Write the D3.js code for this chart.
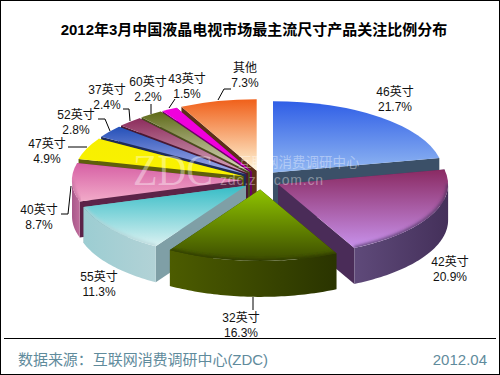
<!DOCTYPE html>
<html>
<head>
<meta charset="utf-8">
<script src="https://cdn.jsdelivr.net/npm/d3@7"></script>
<style>
html, body { margin: 0; padding: 0; background: #fff; }
svg { display: block; }
text { font-family: "Liberation Sans", "Noto Sans CJK SC", sans-serif; }
</style>
</head>
<body>
<svg id="chart" width="500" height="375"></svg>
<script>
var categories = ["46英寸", "42英寸", "32英寸", "55英寸", "40英寸", "47英寸", "52英寸", "37英寸", "60英寸", "43英寸", "其他"];
var shares = [21.7, 20.9, 16.3, 11.3, 8.7, 4.9, 2.8, 2.4, 2.2, 1.5, 7.3];

// face gradient top/bottom, outer wall left/right, cut wall
var faceTop = ["#2f5ee6", "#8a2a62", "#8fc400", "#35bcc6", "#d65fa4", "#f7ef00", "#2450b8", "#8c2c5c", "#5e6a18", "#f000dc", "#f0601a"];
var faceBottom = ["#92b8f2", "#c892ec", "#3c4c00", "#dcf2f2", "#f2abc9", "#f9f200", "#a8aeea", "#d6a8bc", "#dedcc4", "#f000dc", "#fff8da"];
var wallLeft = ["#3b5068", "#5f4a7a", "#4c5c00", "#9ccdd2", "#a8588a", "#77760c", "#26386e", "#60203f", "#474f10", "#8c0084", "#7c3c20"];
var wallRight = ["#3b5068", "#44305a", "#2a3400", "#b2d2d6", "#c06c9c", "#77760c", "#26386e", "#60203f", "#474f10", "#8c0084", "#7c3c20"];
var cutColor = ["#3b5068", "#4a2c58", "#2c3600", "#7f9fa6", "#5c2348", "#5f5f0c", "#1e2c58", "#4a1832", "#4a4c1c", "#6c0068", "#5c3018"];

// draw order, back of the pie first
var drawOrder = [0, 10, 9, 8, 7, 6, 5, 4, 1, 3, 2];

// label anchors and leader lines
var labelX = [395, 450, 241, 99, 39, 47, 76, 107, 148, 187, 245];
var labelY = [96, 266, 322, 281, 214, 148, 119, 94, 86, 83, 72];
var leaders = [
  null, null,
  [[253, 297], [253, 310]],
  null,
  [[61, 214], [68, 214], [71, 186]],
  [[68, 147], [87, 147]],
  [[98, 119], [105, 119], [110, 131]],
  [[123, 109], [129, 109], [130, 121]],
  [[151, 104], [151, 114]],
  [[169, 108], [175, 99]],
  [[218, 100], [224, 89], [231, 89]]
];

var width = 500, height = 375;
var cx = 261, cy = 180, rx = 170, squash = 0.42, explode = 19, depth = 36;

var svg = d3.select("#chart");
var defs = svg.append("defs");

defs.append("filter").attr("id", "soft").append("feGaussianBlur").attr("stdDeviation", 1.6);

svg.append("rect").attr("x", 0.5).attr("y", 0.5).attr("width", width - 1).attr("height", height - 1)
  .attr("fill", "#fff").attr("stroke", "#000");

svg.append("text").attr("x", 254).attr("y", 35).attr("text-anchor", "middle")
  .style("font-size", "15px").style("font-weight", "bold")
  .text("2012年3月中国液晶电视市场最主流尺寸产品关注比例分布");

var pie = d3.pie().sort(null).value(function (d) { return d; });
var arcs = pie(shares);
var arc = d3.arc().innerRadius(0).outerRadius(rx);

var line = d3.line();

function slicePoint(a, o) {
  return [o.x + rx * Math.sin(a), o.y - rx * squash * Math.cos(a)];
}

function offsetOf(d) {
  var mid = (d.startAngle + d.endAngle) / 2;
  return { x: cx + explode * Math.sin(mid), y: cy - explode * 0.5 * Math.cos(mid) };
}

function vGradient(id, c1, c2, horizontal) {
  var grad = defs.append("linearGradient").attr("id", id)
    .attr("x1", 0).attr("y1", 0).attr("x2", horizontal ? 1 : 0).attr("y2", horizontal ? 0 : 1);
  grad.append("stop").attr("offset", "0%").attr("stop-color", c1);
  grad.append("stop").attr("offset", "100%").attr("stop-color", c2);
}

drawOrder.forEach(function (i) {
  var d = arcs[i], o = offsetOf(d);
  var g = svg.append("g");

  // cut sides
  [d.startAngle, d.endAngle].forEach(function (a) {
    var p = slicePoint(a, o);
    g.append("path")
      .attr("d", line([[o.x, o.y], p, [p[0], p[1] + depth], [o.x, o.y + depth]]) + "Z")
      .attr("fill", cutColor[i]);
  });

  // outer wall, only the part that faces the viewer
  var from = Math.max(d.startAngle, Math.PI / 2), to = Math.min(d.endAngle, Math.PI * 1.5);
  var top = [];
  if (from < to) {
    var steps = d3.range(from, to, 0.02).concat([to]);
    top = steps.map(function (a) { return slicePoint(a, o); });
    var bottom = top.map(function (p) { return [p[0], p[1] + depth]; }).reverse();
    vGradient("wall" + i, wallLeft[i], wallRight[i], true);
    g.append("path").attr("d", line(top.concat(bottom)) + "Z").attr("fill", "url(#wall" + i + ")");
  }

  // top face
  vGradient("face" + i, faceTop[i], faceBottom[i], false);
  var faceTransform = "translate(" + o.x + "," + o.y + ") scale(1," + squash + ")";
  g.append("path")
    .attr("transform", faceTransform)
    .attr("d", arc(d))
    .attr("fill", "url(#face" + i + ")");

  // soft rim along the front edge of the face
  if (top.length) {
    defs.append("clipPath").attr("id", "clip" + i).append("path")
      .attr("transform", faceTransform).attr("d", arc(d));
    g.append("g").attr("clip-path", "url(#clip" + i + ")").append("path")
      .attr("d", line(top)).attr("fill", "none").attr("stroke", wallRight[i])
      .attr("stroke-width", 4).attr("stroke-opacity", 0.7).attr("filter", "url(#soft)");
  }
});

// watermark
var mark = svg.append("g").attr("fill", "#fff").attr("fill-opacity", 0.38);
mark.append("text").attr("x", 133).attr("y", 185).style("font-size", "44px")
  .style("font-family", "'Liberation Serif', serif")
  .attr("textLength", 80).attr("lengthAdjust", "spacingAndGlyphs").text("ZDC");
mark.append("text").attr("x", 238).attr("y", 167).style("font-size", "13.5px").text("互联网消费调研中心");
mark.append("text").attr("x", 220).attr("y", 185).style("font-size", "14px")
  .attr("textLength", 103).text("zdc.zol.com.cn");

// labels
categories.forEach(function (c, i) {
  var t = svg.append("text").attr("text-anchor", "middle").style("font-size", "12px").attr("fill", "#111");
  t.append("tspan").attr("x", labelX[i]).attr("y", labelY[i]).text(c);
  t.append("tspan").attr("x", labelX[i]).attr("y", labelY[i] + 15).text(shares[i].toFixed(1) + "%");
  if (leaders[i]) {
    svg.append("path").attr("d", line(leaders[i])).attr("fill", "none").attr("stroke", "#000").attr("stroke-width", 1);
  }
});

// footer
svg.append("line").attr("x1", 4).attr("x2", 496).attr("y1", 338.5).attr("y2", 338.5).attr("stroke", "#000");
svg.append("text").attr("x", 18).attr("y", 365).attr("fill", "#5f8b9c").style("font-size", "15px")
  .attr("textLength", 250).text("数据来源：互联网消费调研中心(ZDC)");
svg.append("text").attr("x", 487).attr("y", 365).attr("text-anchor", "end").attr("fill", "#5f8b9c")
  .style("font-size", "15px").text("2012.04");
</script>
</body>
</html>
